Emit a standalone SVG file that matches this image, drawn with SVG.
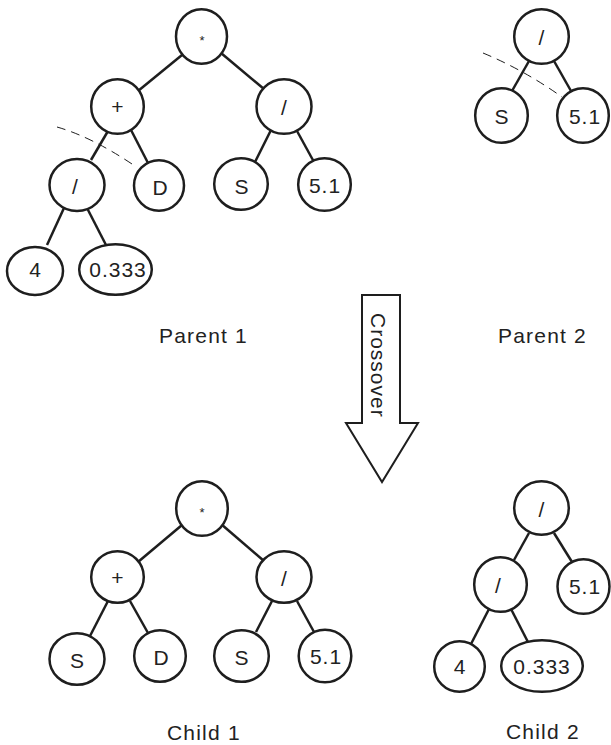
<svg xmlns="http://www.w3.org/2000/svg" width="611" height="745" viewBox="0 0 611 745">
<style>
.n{fill:#fff;stroke:#1e1e1e;stroke-width:2.5}
.e{stroke:#1e1e1e;stroke-width:2.5;fill:none}
.d{stroke:#1e1e1e;stroke-width:1;fill:none;stroke-dasharray:9 6}
text{font-family:"Liberation Sans",Arial,sans-serif;font-size:21px;fill:#222;text-anchor:middle}
.lbl{text-anchor:start;letter-spacing:1.2px}
.sp{letter-spacing:1px}
.star{font-size:13px}
</style>
<rect width="611" height="745" fill="#fff"/>
<g id="connectors">
<line class="e" x1="182" y1="55" x2="138" y2="91"/>
<line class="e" x1="221" y1="53" x2="264" y2="89"/>
<line class="e" x1="108" y1="131" x2="91" y2="160"/>
<line class="e" x1="131" y1="130" x2="148" y2="163"/>
<line class="e" x1="64" y1="208" x2="47" y2="245"/>
<line class="e" x1="87" y1="208" x2="106" y2="245"/>
<line class="e" x1="271" y1="130" x2="255" y2="162"/>
<line class="e" x1="297" y1="131" x2="314" y2="162"/>
<path class="d" d="M57,127 Q92,137 135,166"/>
<line class="e" x1="529" y1="61" x2="512" y2="91"/>
<line class="e" x1="554" y1="61" x2="571" y2="91"/>
<path class="d" d="M483,53 Q524,70 562,97"/>
<line class="e" x1="182" y1="525" x2="138" y2="562"/>
<line class="e" x1="221" y1="524" x2="264" y2="561"/>
<line class="e" x1="108" y1="601" x2="90" y2="636"/>
<line class="e" x1="130" y1="601" x2="148" y2="633"/>
<line class="e" x1="272" y1="601" x2="256" y2="632"/>
<line class="e" x1="297" y1="601" x2="314" y2="632"/>
<line class="e" x1="529" y1="533" x2="514" y2="560"/>
<line class="e" x1="554" y1="533" x2="572" y2="562"/>
<line class="e" x1="489" y1="609" x2="471" y2="644"/>
<line class="e" x1="511" y1="609" x2="529" y2="644"/>
</g>
<g id="p1-root"><ellipse class="n" cx="201.5" cy="36.5" rx="25.5" ry="27.3"/><text class="star" x="202" y="45">*</text></g>
<g id="p1-plus"><ellipse class="n" cx="117.5" cy="106.5" rx="26.3" ry="27.3"/><text x="117.5" y="114">+</text></g>
<g id="p1-div-r"><ellipse class="n" cx="284" cy="106.5" rx="27.5" ry="27.3"/><text x="284" y="115">/</text></g>
<g id="p1-div-l"><ellipse class="n" cx="77" cy="185" rx="27.5" ry="26"/><text x="75" y="194">/</text></g>
<g id="p1-d"><ellipse class="n" cx="159" cy="185.5" rx="25" ry="25.3"/><text x="160" y="194.5">D</text></g>
<g id="p1-s"><ellipse class="n" cx="241" cy="184" rx="26.8" ry="25.8"/><text x="241.5" y="193.5">S</text></g>
<g id="p1-51"><ellipse class="n" cx="324.5" cy="184.5" rx="26.3" ry="26.3"/><text class="sp" x="325" y="192.5">5.1</text></g>
<g id="p1-4"><ellipse class="n" cx="35" cy="271" rx="28" ry="24"/><text x="35" y="277">4</text></g>
<g id="p1-0333"><ellipse class="n" cx="115.5" cy="269.5" rx="36.3" ry="25.3"/><text class="sp" x="118" y="276.5">0.333</text></g>
<text class="lbl" x="159" y="343">Parent 1</text>
<g id="p2-root"><ellipse class="n" cx="541.5" cy="36.5" rx="27.3" ry="27.3"/><text x="541.5" y="45">/</text></g>
<g id="p2-s"><ellipse class="n" cx="501.5" cy="115.5" rx="26.3" ry="27.3"/><text x="501.5" y="124">S</text></g>
<g id="p2-51"><ellipse class="n" cx="583" cy="115.5" rx="25.8" ry="27.3"/><text class="sp" x="585" y="124">5.1</text></g>
<text class="lbl" x="498" y="343">Parent 2</text>
<g id="crossover-arrow"><polygon points="362,295 400,295 400,423 418,423 382,482 346,423 362,423" fill="#fff" stroke="#1e1e1e" stroke-width="2"/><text class="lbl" transform="translate(371,313) rotate(90)" style="letter-spacing:1px">Crossover</text></g>
<g id="c1-root"><ellipse class="n" cx="202" cy="508.5" rx="25.8" ry="27.3"/><text class="star" x="202" y="517">*</text></g>
<g id="c1-plus"><ellipse class="n" cx="117.5" cy="577" rx="26.3" ry="25.8"/><text x="117.5" y="584.5">+</text></g>
<g id="c1-div"><ellipse class="n" cx="284" cy="577" rx="27.5" ry="25.8"/><text x="284" y="586">/</text></g>
<g id="c1-s1"><ellipse class="n" cx="77" cy="659" rx="27.5" ry="25.8"/><text x="77" y="668">S</text></g>
<g id="c1-d"><ellipse class="n" cx="160" cy="656" rx="25.8" ry="25.8"/><text x="161" y="665">D</text></g>
<g id="c1-s2"><ellipse class="n" cx="241.5" cy="656" rx="27.3" ry="25.8"/><text x="241.5" y="665">S</text></g>
<g id="c1-51"><ellipse class="n" cx="325" cy="656" rx="26.3" ry="26.3"/><text class="sp" x="326" y="664">5.1</text></g>
<text class="lbl" x="167" y="740">Child 1</text>
<g id="c2-root"><ellipse class="n" cx="541.5" cy="508" rx="27.3" ry="26.8"/><text x="541.5" y="517">/</text></g>
<g id="c2-div"><ellipse class="n" cx="500.5" cy="584.5" rx="26.3" ry="27.3"/><text x="498" y="593">/</text></g>
<g id="c2-51"><ellipse class="n" cx="583.5" cy="586.5" rx="26" ry="27.3"/><text class="sp" x="585" y="594">5.1</text></g>
<g id="c2-4"><ellipse class="n" cx="459.5" cy="666.5" rx="25.3" ry="25.3"/><text x="459.5" y="674">4</text></g>
<g id="c2-0333"><ellipse class="n" cx="542" cy="666" rx="40.8" ry="25.8"/><text class="sp" x="542" y="673.5">0.333</text></g>
<text class="lbl" x="506" y="739">Child 2</text>
</svg>
